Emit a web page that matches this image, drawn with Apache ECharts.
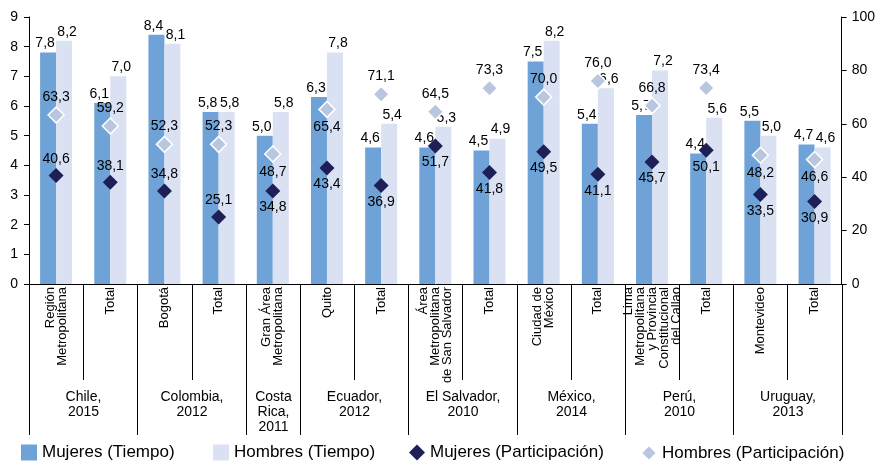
<!DOCTYPE html>
<html>
<head>
<meta charset="utf-8">
<script src="https://cdn.jsdelivr.net/npm/echarts@6/dist/echarts.min.js"></script>
<style>
  html, body { margin: 0; padding: 0; background: #fff; }
  #main { width: 878px; height: 463px; }
</style>
</head>
<body>
<div id="main"></div>
<script>
// sub-categories (one per bar pair)
const categories = [
  'Región\nMetropolitana', 'Total',
  'Bogotá', 'Total',
  'Gran Área\nMetropolitana',
  'Quito', 'Total',
  'Área\nMetropolitana\nde San Salvador', 'Total',
  'Ciudad de\nMéxico', 'Total',
  'Lima\nMetropolitana\ny Provincia\nConstitucional\ndel Callao', 'Total',
  'Montevideo', 'Total'
]
// country groups and how many sub-categories each spans
const groups = ['Chile,\n2015', 'Colombia,\n2012', 'Costa\nRica,\n2011', 'Ecuador,\n2012', 'El Salvador,\n2010', 'México,\n2014', 'Perú,\n2010', 'Uruguay,\n2013']
const groupSizes = [2, 2, 1, 2, 2, 2, 2, 2]

const mujeresTiempo = [7.8, 6.1, 8.4, 5.8, 5.0, 6.3, 4.6, 4.6, 4.5, 7.5, 5.4, 5.7, 4.4, 5.5, 4.7]
const hombresTiempo = [8.2, 7.0, 8.1, 5.8, 5.8, 7.8, 5.4, 5.3, 4.9, 8.2, 6.6, 7.2, 5.6, 5.0, 4.6]
const mujeresPart = [40.6, 38.1, 34.8, 25.1, 34.8, 43.4, 36.9, 51.7, 41.8, 49.5, 41.1, 45.7, 50.1, 33.5, 30.9]
const hombresPart = [63.3, 59.2, 52.3, 52.3, 48.7, 65.4, 71.1, 64.5, 73.3, 70.0, 76.0, 66.8, 73.4, 48.2, 46.6]

const leftTicks = [0, 9, 1]
const rightTicks = [0, 100, 20]

// label placement for the diamond values
const mpLabelPos = ['top', 'top', 'top', 'top', 'bottom', 'bottom', 'bottom', 'bottom', 'bottom', 'bottom', 'bottom', 'bottom', 'bottom', 'bottom', 'bottom']
const hpLabelPos = ['top', 'top', 'top', 'top', 'bottom', 'bottom', 'top', 'top', 'top', 'top', 'top', 'top', 'top', 'bottom', 'bottom']

const FONT = '"Liberation Sans", Arial, sans-serif'
const fmt = v => v.toFixed(1).replace('.', ',')

const chart = echarts.init(document.getElementById('main'))

const legendBase = {
  top: 444,
  padding: 0,
  itemWidth: 16,
  itemHeight: 16,
  itemGap: 0,
  textStyle: { fontFamily: FONT, fontSize: 17, color: '#000' }
}

chart.setOption({
  animation: false,
  textStyle: { fontFamily: FONT },
  grid: { left: 29, right: 35, top: 17, bottom: 179 },
  legend: [
    Object.assign({ left: 21, data: [{ name: 'Mujeres (Tiempo)', icon: 'rect' }] }, legendBase),
    Object.assign({ left: 213, data: [{ name: 'Hombres (Tiempo)', icon: 'rect' }] }, legendBase),
    Object.assign({ left: 409, data: [{ name: 'Mujeres (Participación)', icon: 'diamond' }] }, legendBase),
    Object.assign({ left: 640, data: [{ name: 'Hombres (Participación)', icon: 'diamond' }] }, legendBase)
  ],
  xAxis: {
    type: 'category',
    data: categories,
    boundaryGap: true,
    axisLine: { lineStyle: { color: '#000', width: 1 } },
    axisTick: { show: false },
    axisLabel: {
      interval: 0,
      rotate: 90,
      margin: 3,
      fontFamily: FONT,
      fontSize: 13,
      lineHeight: 12,
      color: '#000'
    }
  },
  yAxis: [
    {
      type: 'value',
      min: leftTicks[0],
      max: leftTicks[1],
      interval: leftTicks[2],
      splitLine: { show: false },
      axisLine: { show: true, lineStyle: { color: '#000' } },
      axisTick: { show: true, length: 5, lineStyle: { color: '#000' } },
      axisLabel: { margin: 11, fontFamily: FONT, fontSize: 14, color: '#000' }
    },
    {
      type: 'value',
      position: 'right',
      min: rightTicks[0],
      max: rightTicks[1],
      interval: rightTicks[2],
      splitLine: { show: false },
      axisLine: { show: true, lineStyle: { color: '#000' } },
      axisTick: { show: true, length: 5, lineStyle: { color: '#000' } },
      axisLabel: { margin: 10, fontFamily: FONT, fontSize: 14, color: '#000' }
    }
  ],
  series: [
    {
      name: 'Mujeres (Tiempo)',
      type: 'bar',
      yAxisIndex: 0,
      barWidth: 16,
      barGap: '0%',
      data: mujeresTiempo,
      itemStyle: { color: '#6fa3d8' },
      label: {
        show: true,
        position: 'top',
        distance: 2,
        offset: [-3, 0],
        fontFamily: FONT,
        fontSize: 14,
        color: '#000',
        formatter: p => fmt(p.value)
      }
    },
    {
      name: 'Hombres (Tiempo)',
      type: 'bar',
      yAxisIndex: 0,
      barWidth: 16,
      data: hombresTiempo,
      itemStyle: { color: '#dae1f3' },
      label: {
        show: true,
        position: 'top',
        distance: 2,
        offset: [3, 0],
        fontFamily: FONT,
        fontSize: 14,
        color: '#000',
        formatter: p => fmt(p.value)
      }
    },
    {
      name: 'Mujeres (Participación)',
      type: 'scatter',
      yAxisIndex: 1,
      symbol: 'diamond',
      symbolSize: 15,
      z: 5,
      itemStyle: { color: '#1f1f58', opacity: 1 },
      data: mujeresPart.map((v, i) => ({
        value: v,
        label: { position: mpLabelPos[i] }
      })),
      label: {
        show: true,
        distance: 2,
        fontFamily: FONT,
        fontSize: 14,
        color: '#000',
        formatter: p => fmt(p.value)
      }
    },
    {
      name: 'Hombres (Participación)',
      type: 'scatter',
      yAxisIndex: 1,
      symbol: 'diamond',
      symbolSize: 16,
      z: 5,
      itemStyle: { color: '#b8c7df', borderColor: '#fff', borderWidth: 1.5, opacity: 1 },
      data: hombresPart.map((v, i) => ({
        value: v,
        label: { position: hpLabelPos[i] }
      })),
      label: {
        show: true,
        distance: 2,
        fontFamily: FONT,
        fontSize: 14,
        color: '#000',
        formatter: p => fmt(p.value)
      }
    }
  ]
})

// separators and country labels below the axis, placed from the axis scale
function drawGroups () {
  const y0 = Math.round(chart.convertToPixel({ yAxisIndex: 0 }, 0))
  const c0 = chart.convertToPixel({ xAxisIndex: 0 }, 0)
  const c1 = chart.convertToPixel({ xAxisIndex: 0 }, 1)
  const band = c1 - c0
  const edge = i => Math.round(c0 + (i - 0.5) * band) + 0.5
  const innerBottom = 380
  const groupBottom = 435
  const elements = []
  let start = 0
  const groupStarts = [0]
  groupSizes.forEach(n => { start += n; groupStarts.push(start) })
  for (let i = 0; i <= categories.length; i++) {
    const isGroupEdge = groupStarts.indexOf(i) >= 0
    elements.push({
      type: 'line',
      silent: true,
      shape: { x1: edge(i), y1: y0, x2: edge(i), y2: isGroupEdge ? groupBottom : innerBottom },
      style: { stroke: '#000', lineWidth: 1 }
    })
  }
  groups.forEach((g, k) => {
    const a = groupStarts[k]
    const b = groupStarts[k + 1]
    const cx = (edge(a) + edge(b)) / 2
    elements.push({
      type: 'text',
      silent: true,
      x: cx,
      y: 390,
      style: {
        text: g,
        fontFamily: FONT,
        fontSize: 14,
        lineHeight: 15,
        fill: '#000',
        align: 'center',
        verticalAlign: 'top'
      }
    })
  })
  chart.setOption({ graphic: elements })
}
drawGroups()
</script>
</body>
</html>
